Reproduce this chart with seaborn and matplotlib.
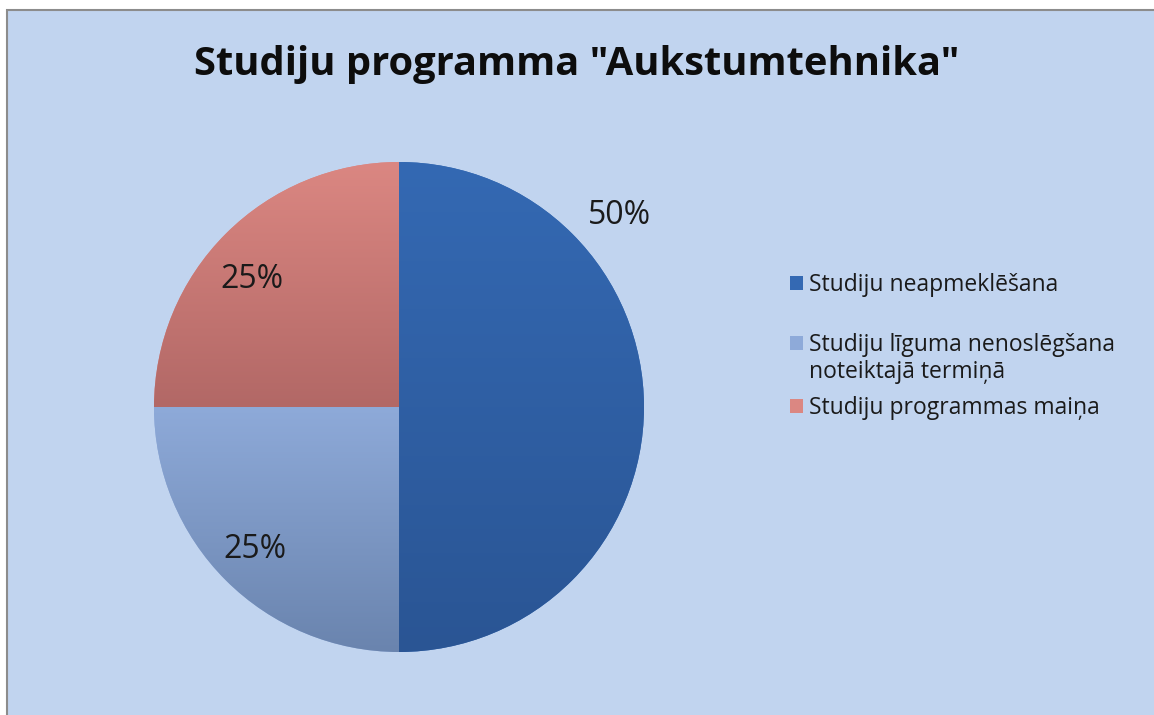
import numpy as np
import matplotlib
matplotlib.use("Agg")
import matplotlib.pyplot as plt
import matplotlib.patches as mpatches
from matplotlib.colors import LinearSegmentedColormap
import seaborn as sns

# data
categories = ["Studiju neapmeklēšana",
              "Studiju līguma nenoslēgšana\nnoteiktajā termiņā",
              "Studiju programmas maiņa"]
shares = [50, 25, 25]
top_colors = ["#3469B3", "#8EAAD9", "#DB8782"]
bottom_colors = ["#2A5594", "#6A84AE", "#B26866"]
label_pos = [(0.90, 0.78), (-0.59, -0.58), (-0.60, 0.52)]

sns.set_theme(style="white")
plt.rcParams['font.family'] = ['Open Sans', 'DejaVu Sans']

bg = "#C1D4EF"
fig = plt.figure(figsize=(11.54, 7.15), dpi=100)
fig.patch.set_facecolor("white")
# chart area frame (top-left edge visible)
fig.patches.append(mpatches.Rectangle((7 / 1154, -0.01), 1.02, 1 - 10 / 715 + 0.01,
                                      transform=fig.transFigure, facecolor=bg,
                                      edgecolor="#8C8C8C", linewidth=1.5, zorder=-10))

ax = fig.add_axes([(399 - 245) / 1154, (715 - 407 - 245) / 715, 490 / 1154, 490 / 715])
ax.set_facecolor("none")

wedges, _ = ax.pie(shares, colors=top_colors, startangle=90, counterclock=False,
                   radius=1.0, wedgeprops=dict(linewidth=0))

# vertical gradient in each slice
for w, c1, c2 in zip(wedges, top_colors, bottom_colors):
    ext = w.get_path().get_extents(w.get_transform() + ax.transData.inverted())
    cmap = LinearSegmentedColormap.from_list("g", [c2, c1])
    grad = np.linspace(0, 1, 256).reshape(-1, 1)
    im = ax.imshow(grad, cmap=cmap, origin="lower", aspect="auto",
                   extent=[ext.x0, ext.x1, ext.y0, ext.y1], zorder=2)
    im.set_clip_path(w)

for (x, y), v in zip(label_pos, shares):
    ax.text(x, y, f"{v}%", fontsize=23, color="#1a1a1a", ha="center", va="center", zorder=5)

ax.set_xlim(-1.0, 1.0)
ax.set_ylim(-1.0, 1.0)
ax.set_aspect("equal")
ax.axis("off")

fig.text(0.5, 1 - 65 / 715, 'Studiju programma "Aukstumtehnika"',
         fontsize=28.7, fontweight="bold", ha="center", va="center", color="#0d0d0d")

# legend: handle sits on the first line of each entry, as in the original
handles = [mpatches.Patch(facecolor=c, edgecolor="none") for c in top_colors]
blank = mpatches.Patch(facecolor="none", edgecolor="none")
line1, line2 = categories[1].split("\n")
leg_kw = dict(loc="upper left", frameon=False, fontsize=16.5, handlelength=0.55,
              handleheight=0.55, handletextpad=0.3, borderaxespad=0, borderpad=0,
              labelcolor="#1a1a1a")
lx = 790 / 1154
fig.legend(handles[:1], categories[:1], bbox_to_anchor=(lx, 1 - 273 / 715), **leg_kw)
fig.legend([handles[1], blank], [line1, line2], bbox_to_anchor=(lx, 1 - 333 / 715),
           labelspacing=0.15, **leg_kw)
fig.legend(handles[2:], categories[2:], bbox_to_anchor=(lx, 1 - 396 / 715), **leg_kw)

fig.savefig("out.png", dpi=100, facecolor=fig.get_facecolor())
